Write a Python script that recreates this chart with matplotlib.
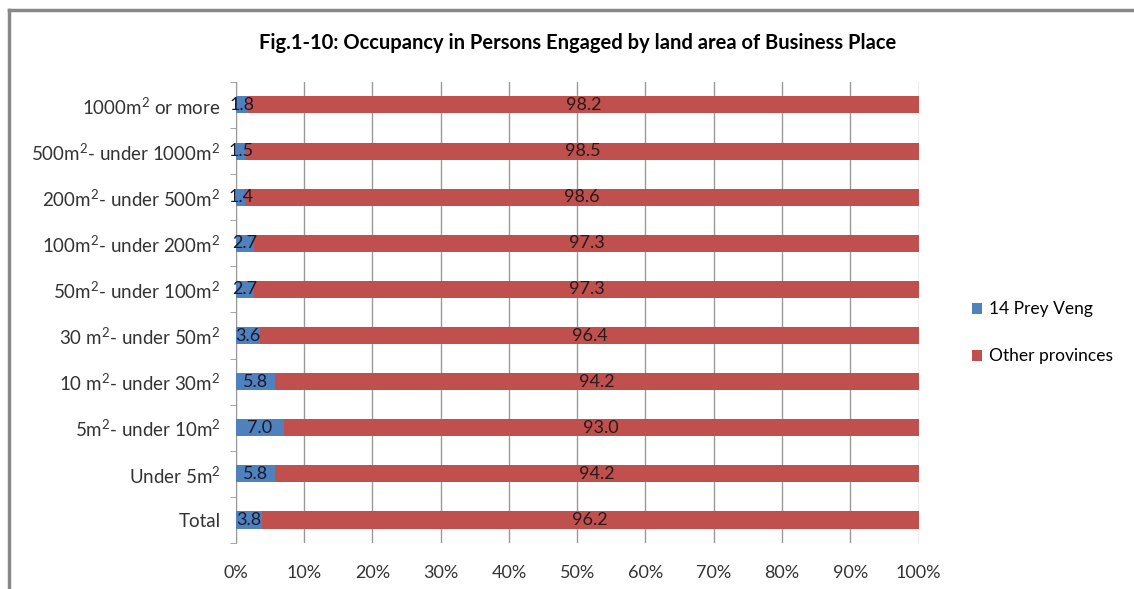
import matplotlib.pyplot as plt
from matplotlib.lines import Line2D
import numpy as np

plt.rcParams['font.family'] = ['Lato', 'DejaVu Sans']
plt.rcParams['mathtext.fontset'] = 'custom'
plt.rcParams['mathtext.rm'] = 'Lato'

categories = ['Total', 'Under 5m$^2$', '5m$^2$- under 10m$^2$', '10 m$^2$- under 30m$^2$',
              '30 m$^2$- under 50m$^2$', '50m$^2$- under 100m$^2$', '100m$^2$- under 200m$^2$',
              '200m$^2$- under 500m$^2$', '500m$^2$- under 1000m$^2$', '1000m$^2$ or more']
prey_veng = [3.8, 5.8, 7.0, 5.8, 3.6, 2.7, 2.7, 1.4, 1.5, 1.8]
other = [96.2, 94.2, 93.0, 94.2, 96.4, 97.3, 97.3, 98.6, 98.5, 98.2]
xticks = ['0%', '10%', '20%', '30%', '40%', '50%', '60%', '70%', '80%', '90%', '100%']

blue = '#4F81BD'
red = '#C0504D'

fig = plt.figure(figsize=(11.34, 5.89), dpi=100)
ax = fig.add_axes([0.208, 0.078, 0.602, 0.783])

y = np.arange(len(categories))
b1 = ax.barh(y, prey_veng, height=0.37, color=blue, label='14 Prey Veng', zorder=3)
b2 = ax.barh(y, other, left=prey_veng, height=0.37, color=red, label='Other provinces', zorder=3)

for i in range(len(categories)):
    ax.text(prey_veng[i] / 2, y[i], f'{prey_veng[i]:.1f}', ha='center', va='center',
            fontsize=13, color='#1a1a2e', zorder=4)
    ax.text(prey_veng[i] + other[i] / 2, y[i], f'{other[i]:.1f}', ha='center', va='center',
            fontsize=13, color='#2a1a1a', zorder=4)

ax.set_xlim(0, 100)
ax.set_ylim(-0.5, len(categories) - 0.5)
ax.set_xticks(np.arange(0, 101, 10))
ax.set_xticklabels(xticks, fontsize=13, color='#333333')
ax.set_yticks(y)
ax.set_yticklabels(categories, fontsize=13.5, color='#333333')
ax.set_yticks(np.arange(-0.5, len(categories), 1), minor=True)
ax.tick_params(axis='y', which='major', length=0, pad=11)
ax.tick_params(axis='y', which='minor', length=4, color='#999999')
ax.tick_params(axis='x', length=0, pad=16)
ax.grid(axis='x', color='#999999', linewidth=1, zorder=0)
for s in ['top', 'right', 'bottom']:
    ax.spines[s].set_visible(False)
ax.spines['left'].set_color('#999999')

ax.set_title('Fig.1-10: Occupancy in Persons Engaged by land area of Business Place',
             fontsize=14.5, fontweight='bold', pad=24)

fig.legend(handles=[b1, b2], loc='center left', bbox_to_anchor=(0.843, 0.435),
           frameon=False, fontsize=12.5, labelspacing=1.8, handlelength=0.6,
           handleheight=0.6, handletextpad=0.4)

# outer frame of the chart
fig.add_artist(Line2D([0.0075, 0.0075], [0, 0.983], color='#888888', linewidth=2.5, transform=fig.transFigure))
fig.add_artist(Line2D([0.0075, 1.0], [0.983, 0.983], color='#888888', linewidth=2.5, transform=fig.transFigure))

fig.savefig('out.png', dpi=100, facecolor='white')
